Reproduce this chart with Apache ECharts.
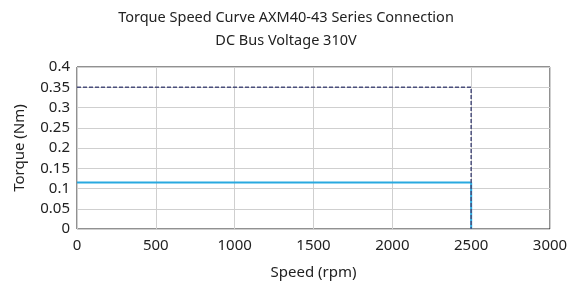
<!DOCTYPE html>
<html>
<head>
<meta charset="utf-8">
<script src="https://cdn.jsdelivr.net/npm/echarts@6/dist/echarts.min.js"></script>
<style>
  html, body { margin: 0; padding: 0; background: #fff; }
  #chart { width: 572px; height: 281px; }
</style>
</head>
<body>
<div id="chart"></div>
<script>
// 数据
const ratedSpeed = [0, 2500, 2500];
const ratedTorque = [0.115, 0.115, 0];
const peakSpeed = [0, 2500, 2500];
const peakTorque = [0.35, 0.35, 0];

const toPairs = (xs, ys) => xs.map((x, i) => [x, ys[i]]);
const font = "'Noto Sans', sans-serif";

const myChart = echarts.init(document.getElementById("chart"));
myChart.setOption({
  animation: false,
  title: {
    text: "Torque Speed Curve AXM40-43 Series Connection\nDC Bus Voltage 310V",
    left: "center",
    top: 1,
    textStyle: {
      fontFamily: font,
      fontSize: 14.5,
      fontWeight: "normal",
      color: "#222",
      lineHeight: 23,
    },
  },
  grid: {
    left: 77,
    right: 22,
    top: 67,
    bottom: 52,
    outerBoundsMode: "none", // 不让坐标轴文字挤压绘图区
    containLabel: false,
    show: true,
    borderColor: "#222",
    borderWidth: 1,
  },
  xAxis: {
    type: "value",
    min: 0,
    max: 3000,
    interval: 500,
    name: "Speed (rpm)",
    nameLocation: "middle",
    nameGap: 36,
    nameTextStyle: { fontFamily: font, fontSize: 15, color: "#222" },
    axisLine: { show: false },
    axisTick: { show: false },
    axisLabel: {
      fontFamily: font,
      fontSize: 15,
      color: "#222",
      margin: 9,
      formatter: (v) => String(v),
    },
    splitLine: { lineStyle: { color: "#cfcfcf" } },
  },
  yAxis: {
    type: "value",
    min: 0,
    max: 0.4,
    interval: 0.05,
    name: "Torque (Nm)",
    nameLocation: "middle",
    nameGap: 50,
    nameTextStyle: { fontFamily: font, fontSize: 15, color: "#222" },
    axisLine: { show: false },
    axisTick: { show: false },
    axisLabel: { fontFamily: font, fontSize: 15, color: "#222", margin: 7 },
    splitLine: { lineStyle: { color: "#cfcfcf" } },
  },
  series: [
    {
      name: "rated",
      type: "line",
      data: toPairs(ratedSpeed, ratedTorque),
      symbol: "none",
      lineStyle: { color: "#29a9e0", width: 2 },
    },
    {
      name: "peak",
      type: "line",
      data: toPairs(peakSpeed, peakTorque),
      symbol: "none",
      lineStyle: { color: "#4b4f7c", width: 1.5, type: [4, 2] },
    },
  ],
});
</script>
</body>
</html>
